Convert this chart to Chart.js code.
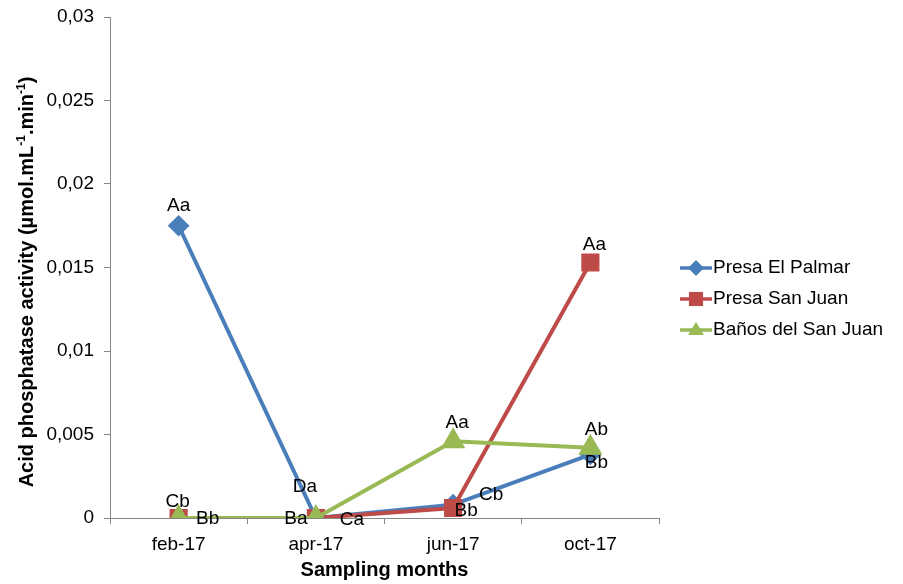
<!DOCTYPE html>
<html>
<head>
<meta charset="utf-8">
<script src="https://cdn.jsdelivr.net/npm/chart.js@4"></script>
<style>
  body { margin: 0; background: #fff; }
</style>
</head>
<body>
<canvas id="myChart" width="903" height="584"></canvas>
<script>
const months = ['feb-17', 'apr-17', 'jun-17', 'oct-17'];
const yTicks = [0, 0.005, 0.01, 0.015, 0.02, 0.025, 0.03];

const palmar = [0.0175, 0, 0.0008, 0.0038];
const sanJuan = [0, 0, 0.0006, 0.0153];
const banos = [0, 0, 0.0046, 0.0042];

// significance letters written next to each point
const palmarLetters = ['Aa', 'Da', 'Cb', 'Bb'];
const sanJuanLetters = ['Cb', 'Ba', 'Bb', 'Aa'];
const banosLetters = ['Bb', 'Ca', 'Aa', 'Ab'];

const FONT = 'Liberation Sans, Arial, sans-serif';
const TXT = 19;

function marker(ctx, style, x, y, r, color) {
  ctx.save();
  ctx.fillStyle = color;
  ctx.beginPath();
  if (style === 'rectRot') {
    ctx.moveTo(x, y - r); ctx.lineTo(x + r, y); ctx.lineTo(x, y + r); ctx.lineTo(x - r, y);
  } else if (style === 'rect') {
    const s = r * Math.SQRT1_2;
    ctx.rect(x - s, y - s, 2 * s, 2 * s);
  } else {
    ctx.moveTo(x, y - r * 0.8); ctx.lineTo(x + r * 0.8, y + r * 0.5); ctx.lineTo(x - r * 0.8, y + r * 0.5);
  }
  ctx.closePath();
  ctx.fill();
  ctx.restore();
}

const extras = {
  id: 'extras',
  afterDatasetsDraw(chart) {
    const ctx = chart.ctx;
    ctx.save();
    ctx.font = TXT + 'px ' + FONT;
    ctx.fillStyle = '#000';
    ctx.textAlign = 'center';
    ctx.textBaseline = 'middle';
    chart.data.datasets.forEach((ds, i) => {
      chart.getDatasetMeta(i).data.forEach((pt, j) => {
        const off = ds.letterOffsets[j];
        ctx.fillText(ds.letters[j], pt.x + off[0], pt.y + off[1]);
      });
    });

    // legend on the right
    chart.data.datasets.forEach((ds, i) => {
      const y = 268 + i * 31;
      ctx.strokeStyle = ds.borderColor;
      ctx.lineWidth = 3.5;
      ctx.beginPath();
      ctx.moveTo(680, y); ctx.lineTo(712, y);
      ctx.stroke();
      marker(ctx, ds.pointStyle, 696, y, ds.pointRadius, ds.borderColor);
      ctx.fillStyle = '#000';
      ctx.textAlign = 'left';
      ctx.fillText(ds.label, 713, y);
    });

    // y axis title with superscripts
    const parts = [
      ['Acid phosphatase activity (µmol.mL', false],
      ['-1', true],
      ['.min', false],
      ['-1', true],
      [')', false]
    ];
    const big = 'bold 20px ' + FONT, small = 'bold 12px ' + FONT;
    let total = 0;
    parts.forEach(p => { ctx.font = p[1] ? small : big; total += ctx.measureText(p[0]).width; });
    ctx.translate(27, 282);
    ctx.rotate(-Math.PI / 2);
    ctx.textAlign = 'left';
    ctx.textBaseline = 'alphabetic';
    let x = -total / 2;
    parts.forEach(p => {
      ctx.font = p[1] ? small : big;
      ctx.fillText(p[0], x, p[1] ? -2 : 6);
      x += ctx.measureText(p[0]).width;
    });
    ctx.restore();
  }
};

const ctx = document.getElementById('myChart');

new Chart(ctx, {
  type: 'line',
  data: {
    labels: months,
    datasets: [{
      label: 'Presa El Palmar',
      data: palmar,
      borderColor: '#4A7EBB',
      backgroundColor: '#4A7EBB',
      pointStyle: 'rectRot',
      pointRadius: 8,
      borderWidth: 4,
      order: 3,
      letters: palmarLetters,
      letterOffsets: [[0, -20], [-11, -31], [38, -10], [6, 8]]
    }, {
      label: 'Presa San Juan',
      data: sanJuan,
      borderColor: '#BE4B48',
      backgroundColor: '#BE4B48',
      pointStyle: 'rect',
      pointRadius: 10,
      borderWidth: 4,
      order: 2,
      letters: sanJuanLetters,
      letterOffsets: [[-1, -16], [-20, 1], [13, 3], [4, -18]]
    }, {
      label: 'Baños del San Juan',
      data: banos,
      borderColor: '#98B954',
      backgroundColor: '#98B954',
      pointStyle: 'triangle',
      pointRadius: 10,
      borderWidth: 4,
      order: 1,
      letters: banosLetters,
      letterOffsets: [[29, 1], [36, 2], [4, -18], [6, -18]]
    }]
  },
  options: {
    responsive: false,
    animation: false,
    layout: { padding: { top: 17, right: 244, left: 0, bottom: 0 } },
    plugins: { legend: { display: false }, tooltip: { enabled: false } },
    elements: { line: { tension: 0 }, point: { borderWidth: 1 } },
    scales: {
      x: {
        offset: true,
        grid: { offset: true, drawOnChartArea: false, tickLength: 6, color: '#868686' },
        border: { color: '#868686' },
        ticks: { color: '#000', font: { size: TXT, family: FONT }, padding: 9, maxRotation: 0 },
        title: {
          display: true,
          text: 'Sampling months',
          color: '#000',
          font: { size: 20, weight: 'bold', family: FONT },
          padding: { top: 0, bottom: 2 }
        },
        afterFit: s => { s.height = 66; }
      },
      y: {
        min: 0,
        max: 0.03,
        afterBuildTicks: s => { s.ticks = yTicks.map(v => ({ value: v })); },
        grid: { drawOnChartArea: false, tickLength: 6, color: '#868686' },
        border: { color: '#868686' },
        ticks: {
          color: '#000',
          font: { size: TXT, family: FONT },
          padding: 10,
          callback: v => String(v).replace('.', ',')
        },
        afterFit: s => { s.width = 110; s.paddingTop = 0; s.paddingBottom = 0; }
      }
    }
  },
  plugins: [extras]
});
</script>
</body>
</html>
